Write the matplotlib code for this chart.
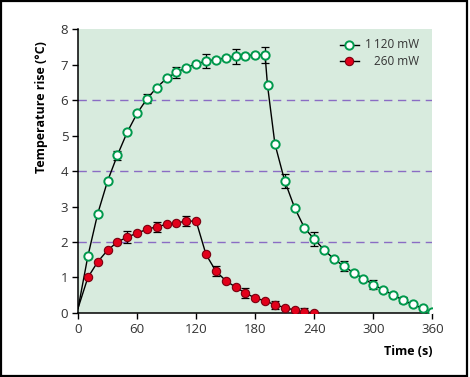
import numpy as np
import matplotlib
matplotlib.use('Agg')
import matplotlib.pyplot as plt
from matplotlib.patches import Rectangle

plt.rcParams['font.family'] = ['Open Sans', 'DejaVu Sans']

# 1120 mW series (first point is the trace start, no marker)
t_hi = [0, 10, 20, 30, 40, 50, 60, 70, 80, 90, 100, 110, 120, 130, 140, 150, 160, 170, 180, 190,
        192.5, 200, 210, 220, 230, 240, 250, 260, 270, 280, 290, 300, 310, 320, 330, 340, 350, 360]
v_hi = [0.12, 1.60, 2.80, 3.72, 4.45, 5.10, 5.63, 6.04, 6.36, 6.62, 6.79, 6.92, 7.03, 7.10, 7.15, 7.19,
        7.24, 7.26, 7.28, 7.28, 6.42, 4.77, 3.72, 2.97, 2.40, 2.08, 1.78, 1.52, 1.32, 1.13, 0.97, 0.80,
        0.65, 0.51, 0.36, 0.24, 0.13, 0.02]
# error bars for 1120 mW
te_hi = [40, 70, 100, 130, 160, 190, 210, 240, 270, 300, 330]
ve_hi = [4.45, 6.04, 6.79, 7.10, 7.24, 7.28, 3.72, 2.08, 1.32, 0.80, 0.36]
e_hi = [0.13, 0.13, 0.16, 0.20, 0.22, 0.23, 0.20, 0.19, 0.15, 0.12, 0.08]

# 260 mW series
t_lo = [0, 10, 20, 30, 40, 50, 60, 70, 80, 90, 100, 110, 120, 130, 140, 150, 160, 170, 180, 190,
        200, 210, 220, 230, 240]
v_lo = [0.13, 1.00, 1.44, 1.77, 2.00, 2.14, 2.25, 2.36, 2.43, 2.50, 2.54, 2.59, 2.59, 1.65, 1.18,
        0.91, 0.73, 0.56, 0.42, 0.34, 0.23, 0.15, 0.08, 0.02, 0.01]
te_lo = [50, 80, 110, 140, 170, 200, 230]
ve_lo = [2.14, 2.43, 2.59, 1.18, 0.56, 0.23, 0.02]
e_lo = [0.16, 0.14, 0.15, 0.13, 0.14, 0.12, 0.12]

labels = ['1\u2009120 mW', '260 mW']

green = '#00994c'
red = '#e2001a'
bg = '#d8ebde'

fig = plt.figure(figsize=(4.70, 3.77), dpi=100)
ax = fig.add_axes([0.166, 0.170, 0.754, 0.752])
ax.set_facecolor(bg)

for y in [2, 4, 6]:
    ax.axhline(y, color='#8a6cc4', lw=1.0, dashes=(6, 4), zorder=1)

ax.errorbar(te_hi, ve_hi, yerr=e_hi, fmt='none', ecolor='black', elinewidth=0.9, capsize=3, capthick=0.9, zorder=2)
ax.errorbar(te_lo, ve_lo, yerr=e_lo, fmt='none', ecolor='black', elinewidth=0.9, capsize=3, capthick=0.9, zorder=2)

ax.plot(t_hi, v_hi, color='black', lw=1.0, zorder=3)
ax.plot(t_lo, v_lo, color='black', lw=1.0, zorder=3)
ax.plot(t_hi[1:], v_hi[1:], 'o', ms=6, mfc='white', mec=green, mew=1.4, zorder=4)
ax.plot(t_lo[1:], v_lo[1:], 'o', ms=6, mfc=red, mec='#7a0010', mew=0.8, zorder=4)

ax.set_xlim(0, 360)
ax.set_ylim(0, 8)
ax.set_xticks([0, 60, 120, 180, 240, 300, 360])
ax.set_yticks(range(0, 9))
for s in ['top', 'right']:
    ax.spines[s].set_visible(False)
for s in ['left', 'bottom']:
    ax.spines[s].set_linewidth(1.1)
ax.tick_params(direction='out', length=4, width=1.0, labelsize=9.5, labelcolor='#333333', pad=3)

ax.set_ylabel('Temperature rise (\u00b0C)', fontsize=9, fontweight='bold')
ax.yaxis.set_label_coords(-0.085, 0.725)
ax.set_xlabel('Time (s)', fontsize=9, fontweight='bold', ha='right')
ax.xaxis.set_label_coords(1.0, -0.113)

# legend drawn by hand so the text is right aligned
leg = [(labels[0], 'white', green, 1.4), (labels[1], red, '#7a0010', 0.8)]
for i, (lab, fc, ec, mw) in enumerate(leg):
    yy = 0.945 - i * 0.058
    ax.plot([0.738, 0.794], [yy, yy], color='black', lw=1.0, transform=ax.transAxes, clip_on=False)
    ax.plot([0.766], [yy], 'o', ms=6, mfc=fc, mec=ec, mew=mw, transform=ax.transAxes, clip_on=False)
    ax.text(0.963, yy, lab, fontsize=8.5, color='#333333', ha='right', va='center', transform=ax.transAxes)

fig.patches.append(Rectangle((0.002, 0.003), 0.992, 0.994, transform=fig.transFigure,
                             fill=False, edgecolor='black', lw=1.6))

fig.savefig('out.png', dpi=100)
